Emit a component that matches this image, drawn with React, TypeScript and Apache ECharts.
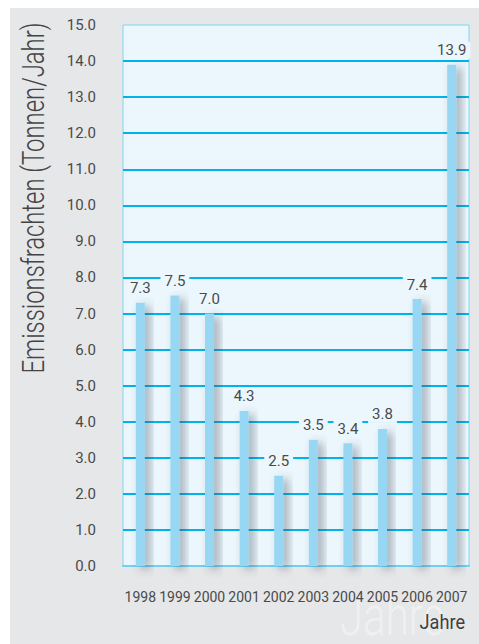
import React, { useEffect, useRef } from "react";
import * as echarts from "echarts";

// Annual emission loads in tonnes per year
const years = ["1998", "1999", "2000", "2001", "2002", "2003", "2004", "2005", "2006", "2007"];
const emissions = [7.3, 7.5, 7.0, 4.3, 2.5, 3.5, 3.4, 3.8, 7.4, 13.9];

const yMin = 0;
const yMax = 15;
const yStep = 1;

const yAxisTitle = "Emissionsfrachten (Tonnen/Jahr)";
const xAxisTitle = "Jahre";

const PAGE_BG = "#e6e7e9";
const PLOT_BG = "#ecf7fd";
const TEXT = "#4a4a4a";

export default function App() {
  const ref = useRef<HTMLDivElement>(null);

  useEffect(() => {
    if (!ref.current) return;
    const chart = echarts.init(ref.current, null, { renderer: "svg" });
    chart.setOption({
      animation: false,
      backgroundColor: PAGE_BG,
      textStyle: { fontFamily: "Roboto" },
      grid: {
        left: 113,
        top: 17,
        right: 10,
        bottom: 78,
        show: true,
        backgroundColor: PLOT_BG,
        borderColor: "#7fd6f2",
        borderWidth: 1,
      },
      xAxis: {
        type: "category",
        data: years,
        boundaryGap: true,
        axisTick: { show: false },
        axisLine: { show: true, lineStyle: { color: "#6fd0f0", width: 2 } },
        axisLabel: {
          interval: 0,
          color: TEXT,
          fontSize: 14,
          fontFamily: "Roboto",
          margin: 24,
        },
      },
      yAxis: {
        type: "value",
        min: yMin,
        max: yMax,
        interval: yStep,
        axisLine: { show: false },
        axisTick: { show: false },
        axisLabel: {
          color: TEXT,
          fontSize: 15,
          fontFamily: "Roboto",
          margin: 27,
          formatter: (v: number) => v.toFixed(1),
        },
        splitLine: {
          show: true,
          showMinLine: false,
          showMaxLine: false,
          lineStyle: { color: "#00b3ea", width: 2 },
        },
      },
      series: [
        {
          type: "bar",
          data: emissions,
          barWidth: 9,
          itemStyle: {
            color: "#97d7f4",
            shadowColor: "rgba(60,70,85,0.45)",
            shadowBlur: 10,
            shadowOffsetX: 5,
            shadowOffsetY: 3,
          },
          label: {
            show: true,
            position: "top",
            distance: 6,
            color: TEXT,
            fontSize: 15,
            fontFamily: "Roboto",
            backgroundColor: PLOT_BG,
            padding: [1, 4],
            formatter: (p: any) => Number(p.value).toFixed(1),
          },
        },
      ],
      graphic: [
        {
          type: "text",
          z: 0,
          x: 330,
          y: 636,
          scaleX: 0.75,
          silent: true,
          style: {
            text: xAxisTitle,
            fontSize: 56,
            fontFamily: "Roboto",
            fontWeight: 300,
            fill: "#eff0f2",
            align: "left",
            verticalAlign: "bottom",
          },
        },
        {
          type: "text",
          x: 23,
          y: 190,
          rotation: Math.PI / 2,
          scaleX: 0.77,
          style: {
            text: yAxisTitle,
            fontSize: 31,
            fontFamily: "Roboto",
            fontWeight: 300,
            fill: "#444444",
            align: "center",
            verticalAlign: "middle",
          },
        },
        {
          type: "text",
          x: 455,
          y: 615,
          scaleX: 0.93,
          style: {
            text: xAxisTitle,
            fontSize: 19.5,
            fontFamily: "Roboto",
            fill: "#3f3f3f",
            align: "right",
            verticalAlign: "middle",
          },
        },
      ],
    });
    return () => chart.dispose();
  }, []);

  return (
    <div
      ref={ref}
      style={{
        position: "absolute",
        left: 10,
        top: 8,
        width: 469,
        height: 636,
      }}
    />
  );
}
